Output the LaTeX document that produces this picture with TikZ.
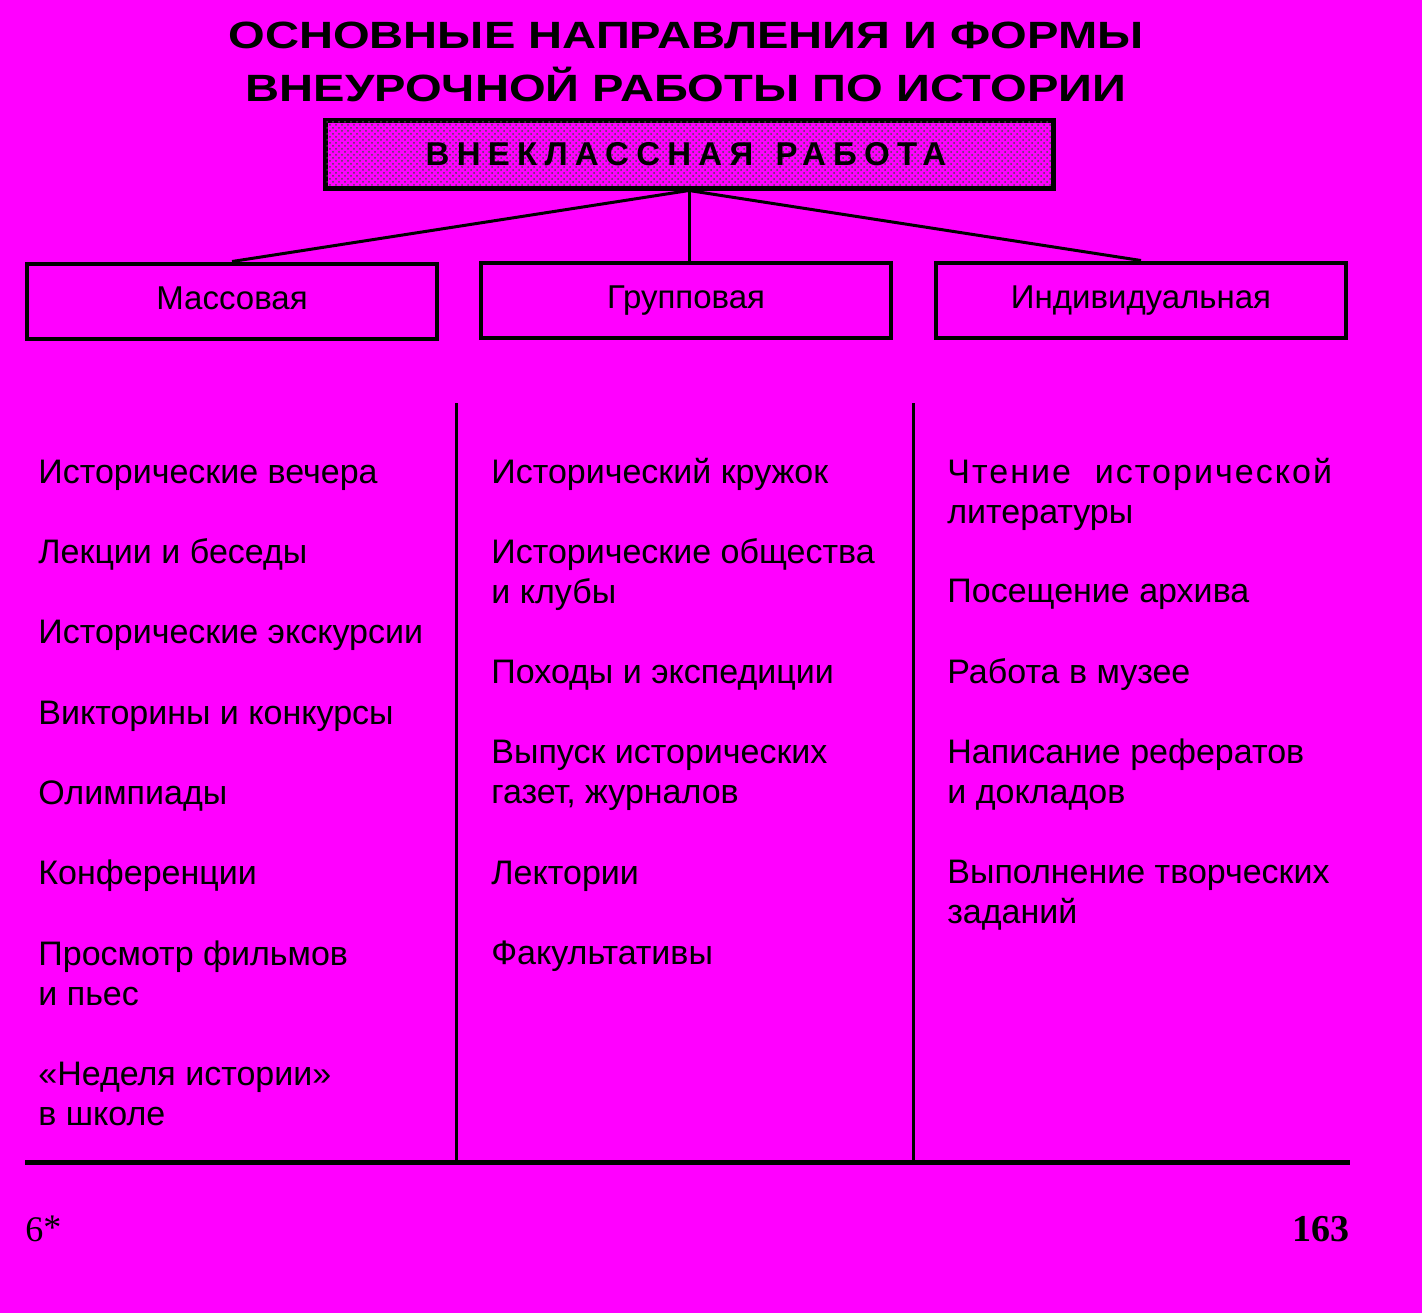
\documentclass[tikz,border=0pt]{standalone}
\usepackage{fontspec}
\setmainfont{Liberation Sans}
\newfontfamily\pagefont{Liberation Serif}
\usepackage{xcolor}
\usepackage{graphicx}
\usepackage{tikz}
\usetikzlibrary{calc, patterns}
\definecolor{pagebg}{HTML}{FF00FF}

\begin{document}
\begin{tikzpicture}[x=0.5pt, y=-0.5pt,
    kind/.style={draw, line width=2pt, minimum width=205pt, minimum height=37.5pt,
                 inner sep=0pt, text height=11.5pt, text depth=3.5pt,
                 font=\fontsize{16.5}{19}\selectfont},
    item/.style={anchor=base west, align=left, inner sep=0pt,
                 font=\fontsize{17}{20}\selectfont},
    link/.style={line width=1.5pt}]
    % 1. Page and background
    \useasboundingbox (0,0) rectangle (1422,1313);
    \fill[pagebg] (0,0) rectangle (1422,1313);

    % 2. Heading
    \node[anchor=base, inner sep=0pt, font=\bfseries\fontsize{19}{22}\selectfont] (head1) at (686,48)
        {\scalebox{1.24}[1]{ОСНОВНЫЕ НАПРАВЛЕНИЯ И ФОРМЫ}};
    \node[anchor=base, inner sep=0pt, font=\bfseries\fontsize{19}{22}\selectfont] (head2) at (686,101)
        {\scalebox{1.24}[1]{ВНЕУРОЧНОЙ РАБОТЫ ПО ИСТОРИИ}};

    % 3. Main box and the three kinds
    \node[draw, line width=2.5pt, fill=pagebg, minimum width=364pt, minimum height=34pt,
          inner sep=0pt] (vr) at (689,154) {};
    \fill[pattern=crosshatch dots, pattern color=black!70] ($(vr.south west)+(4,-4)$) rectangle ($(vr.north east)+(-4,4)$);
    \node[inner sep=0pt, font=\bfseries\fontsize{16.5}{18}\selectfont\addfontfeature{LetterSpace=22}] (vrtext) at (686,154)
        {ВНЕКЛАССНАЯ\hspace{3pt} РАБОТА};

    \node[kind] (mass) at (232,301) {Массовая};
    \node[kind] (grp)  at (686,300) {Групповая};
    \node[kind] (ind)  at (1141,300) {Индивидуальная};

    \draw[link] (vr.south) -- (mass.north);
    \draw[link] (vr.south) -- (vr.south |- grp.north);
    \draw[link] (vr.south) -- (ind.north);

    % 4. Column rules
    \draw[link] (456,403) -- (456,1160);
    \draw[link] (913,403) -- (913,1160);
    \draw[line width=2.5pt] (25,1162) -- (1350,1162);

    % 5. Forms of work, column by column (y = baseline of the last line)
    \foreach \y/\t [count=\i] in {483/{Исторические вечера}, 563/{Лекции и беседы},
        643/{Исторические экскурсии}, 724/{Викторины и конкурсы}, 804/{Олимпиады},
        884/{Конференции}, 1005/{Просмотр фильмов\\и пьес}, 1125/{«Неделя истории»\\в школе}}
        \node[item] (mass-\i) at (38,\y) {\t};

    \foreach \y/\t [count=\i] in {483/{Исторический кружок}, 603/{Исторические общества\\и клубы},
        683/{Походы и экспедиции}, 803/{Выпуск исторических\\газет, журналов},
        884/{Лектории}, 964/{Факультативы}}
        \node[item] (grp-\i) at (491,\y) {\t};

    \foreach \y/\t [count=\i] in {523/{{\addfontfeature{LetterSpace=6}Чтение\hspace{0.7em}исторической}\\литературы},
        602/{Посещение архива}, 683/{Работа в музее},
        803/{Написание рефератов\\и докладов}, 923/{Выполнение творческих\\заданий}}
        \node[item] (ind-\i) at (947,\y) {\t};

    % 6. Page numbers
    \node[anchor=base west, inner sep=0pt, font=\pagefont\fontsize{18}{20}\selectfont] (pgl) at (25,1241) {6\raisebox{1pt}{*}};
    \node[anchor=base east, inner sep=0pt, font=\pagefont\bfseries\fontsize{19}{22}\selectfont] (pgr) at (1350,1241) {163};
\end{tikzpicture}
\end{document}
